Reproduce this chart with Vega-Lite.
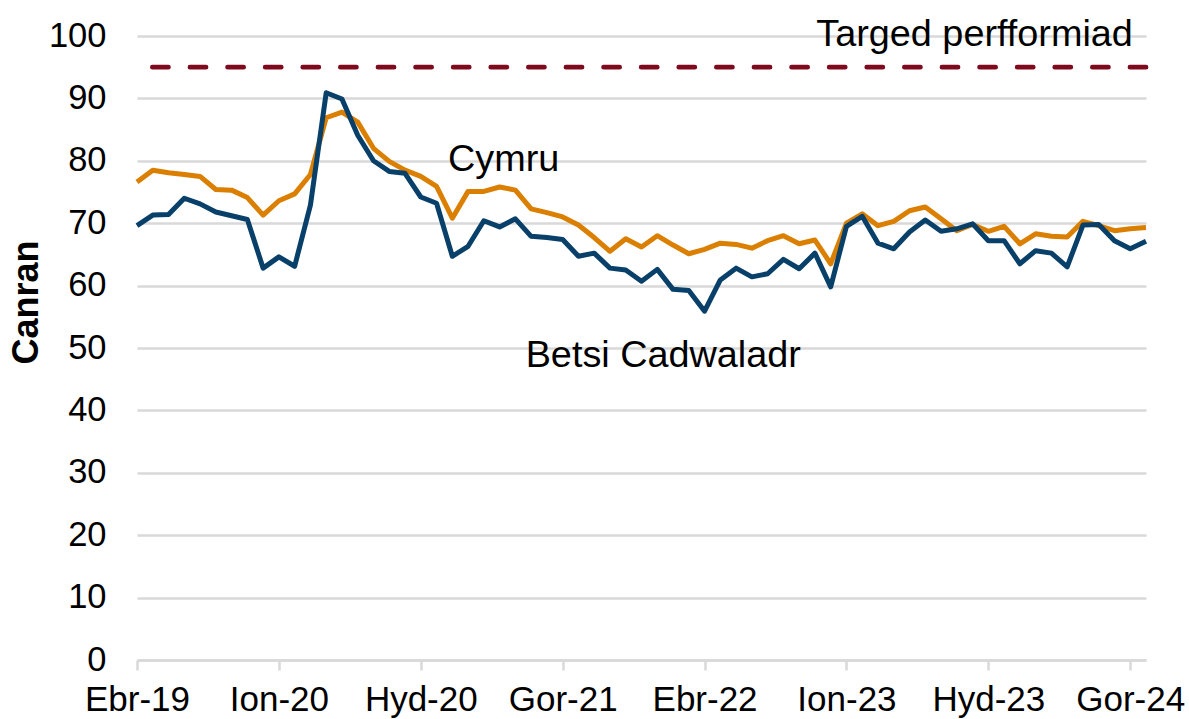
{
  "$schema": "https://vega.github.io/schema/vega-lite/v6.json",
  "width": 1009,
  "height": 624,
  "autosize": {"type": "none"},
  "padding": {"left": 137, "top": 36, "right": 43, "bottom": 59},
  "background": "white",
  "config": {
    "view": {"stroke": null},
    "font": "Liberation Sans",
    "axis": {"labelFont": "Liberation Sans", "titleFont": "Liberation Sans", "labelColor": "#000000", "titleColor": "#000000"},
    "text": {"fontSize": 37.8, "align": "center", "baseline": "alphabetic", "color": "#000000", "font": "Liberation Sans"}
  },
  "datasets": {
    "main": [
      {"m": "Ebr-19", "betsi": 69.6, "cymru": 76.6},
      {"m": "Mai-19", "betsi": 71.3, "cymru": 78.5},
      {"m": "Meh-19", "betsi": 71.4, "cymru": 78.1},
      {"m": "Gor-19", "betsi": 74.0, "cymru": 77.8},
      {"m": "Aws-19", "betsi": 73.1, "cymru": 77.5},
      {"m": "Med-19", "betsi": 71.8, "cymru": 75.4},
      {"m": "Hyd-19", "betsi": 71.2, "cymru": 75.3},
      {"m": "Tach-19", "betsi": 70.6, "cymru": 74.1},
      {"m": "Rhag-19", "betsi": 62.8, "cymru": 71.3},
      {"m": "Ion-20", "betsi": 64.6, "cymru": 73.6},
      {"m": "Chwe-20", "betsi": 63.1, "cymru": 74.7},
      {"m": "Maw-20", "betsi": 72.9, "cymru": 77.8},
      {"m": "Ebr-20", "betsi": 90.9, "cymru": 86.9},
      {"m": "Mai-20", "betsi": 89.9, "cymru": 87.8},
      {"m": "Meh-20", "betsi": 84.1, "cymru": 86.2},
      {"m": "Gor-20", "betsi": 80.0, "cymru": 82.0},
      {"m": "Aws-20", "betsi": 78.3, "cymru": 79.9},
      {"m": "Med-20", "betsi": 78.0, "cymru": 78.5},
      {"m": "Hyd-20", "betsi": 74.2, "cymru": 77.5},
      {"m": "Tach-20", "betsi": 73.2, "cymru": 75.9},
      {"m": "Rhag-20", "betsi": 64.7, "cymru": 70.8},
      {"m": "Ion-21", "betsi": 66.3, "cymru": 75.1},
      {"m": "Chwe-21", "betsi": 70.4, "cymru": 75.1},
      {"m": "Maw-21", "betsi": 69.4, "cymru": 75.8},
      {"m": "Ebr-21", "betsi": 70.7, "cymru": 75.3},
      {"m": "Mai-21", "betsi": 67.9, "cymru": 72.3},
      {"m": "Meh-21", "betsi": 67.7, "cymru": 71.7},
      {"m": "Gor-21", "betsi": 67.4, "cymru": 71.0},
      {"m": "Aws-21", "betsi": 64.7, "cymru": 69.7},
      {"m": "Med-21", "betsi": 65.2, "cymru": 67.7},
      {"m": "Hyd-21", "betsi": 62.8, "cymru": 65.5},
      {"m": "Tach-21", "betsi": 62.5, "cymru": 67.5},
      {"m": "Rhag-21", "betsi": 60.7, "cymru": 66.2},
      {"m": "Ion-22", "betsi": 62.6, "cymru": 68.0},
      {"m": "Chwe-22", "betsi": 59.4, "cymru": 66.5},
      {"m": "Maw-22", "betsi": 59.2, "cymru": 65.1},
      {"m": "Ebr-22", "betsi": 55.9, "cymru": 65.8},
      {"m": "Mai-22", "betsi": 60.9, "cymru": 66.8},
      {"m": "Meh-22", "betsi": 62.8, "cymru": 66.6},
      {"m": "Gor-22", "betsi": 61.4, "cymru": 66.0},
      {"m": "Aws-22", "betsi": 61.9, "cymru": 67.2},
      {"m": "Med-22", "betsi": 64.2, "cymru": 68.0},
      {"m": "Hyd-22", "betsi": 62.7, "cymru": 66.7},
      {"m": "Tach-22", "betsi": 65.2, "cymru": 67.3},
      {"m": "Rhag-22", "betsi": 59.8, "cymru": 63.5},
      {"m": "Ion-23", "betsi": 69.5, "cymru": 70.0},
      {"m": "Chwe-23", "betsi": 71.1, "cymru": 71.5},
      {"m": "Maw-23", "betsi": 66.8, "cymru": 69.6},
      {"m": "Ebr-23", "betsi": 65.9, "cymru": 70.3},
      {"m": "Mai-23", "betsi": 68.6, "cymru": 72.0},
      {"m": "Meh-23", "betsi": 70.5, "cymru": 72.6},
      {"m": "Gor-23", "betsi": 68.7, "cymru": 70.7},
      {"m": "Aws-23", "betsi": 69.1, "cymru": 68.8},
      {"m": "Med-23", "betsi": 69.9, "cymru": 69.8},
      {"m": "Hyd-23", "betsi": 67.2, "cymru": 68.7},
      {"m": "Tach-23", "betsi": 67.2, "cymru": 69.5},
      {"m": "Rhag-23", "betsi": 63.5, "cymru": 66.7},
      {"m": "Ion-24", "betsi": 65.6, "cymru": 68.3},
      {"m": "Chwe-24", "betsi": 65.2, "cymru": 67.9},
      {"m": "Maw-24", "betsi": 63.0, "cymru": 67.8},
      {"m": "Ebr-24", "betsi": 69.7, "cymru": 70.3},
      {"m": "Mai-24", "betsi": 69.8, "cymru": 69.6},
      {"m": "Meh-24", "betsi": 67.2, "cymru": 68.8},
      {"m": "Gor-24", "betsi": 65.9, "cymru": 69.1},
      {"m": "Aws-24", "betsi": 67.1, "cymru": 69.3}
    ],
    "target": [{"target": 95}]
  },
  "layer": [
    {
      "data": {"name": "target"},
      "mark": {"type": "rule", "color": "#7F0A1E", "strokeWidth": 4.8, "strokeDash": [16, 21.6], "strokeCap": "round"},
      "encoding": {
        "y": {"field": "target", "type": "quantitative", "scale": {"domain": [0, 100]}}
      }
    },
    {
      "data": {"name": "main"},
      "transform": [{"fold": ["cymru", "betsi"], "as": ["series", "value"]}],
      "mark": {"type": "line", "strokeWidth": 5, "strokeJoin": "round"},
      "encoding": {
        "x": {
          "field": "m", "type": "ordinal", "sort": null,
          "scale": {"type": "point", "padding": 0},
          "axis": {
            "values": ["Ebr-19", "Ion-20", "Hyd-20", "Gor-21", "Ebr-22", "Ion-23", "Hyd-23", "Gor-24"],
            "title": null, "labelAngle": 0, "labelFontSize": 35, "labelPadding": 12,
            "domainColor": "#d9d9d9", "domainWidth": 2.5, "tickColor": "#d9d9d9", "tickWidth": 2.5, "tickSize": 10,
            "grid": false, "labelOverlap": false
          }
        },
        "y": {
          "field": "value", "type": "quantitative",
          "scale": {"domain": [0, 100], "nice": false},
          "axis": {
            "values": [0, 10, 20, 30, 40, 50, 60, 70, 80, 90, 100],
            "title": "Canran", "titleFontSize": 36, "titleFontWeight": "bold",
            "titleAngle": -90, "titleX": -111, "titleY": 266, "titleAlign": "center", "titleBaseline": "middle",
            "labelFontSize": 34.5, "labelPadding": 31, "ticks": false, "domain": false,
            "grid": true, "gridColor": "#d9d9d9", "gridWidth": 2.5
          }
        },
        "color": {
          "field": "series", "type": "nominal",
          "scale": {"domain": ["cymru", "betsi"], "range": ["#DA7F00", "#08406A"]},
          "legend": null
        }
      }
    },
    {
      "data": {"values": [{"m": "Maw-21", "value": 78.3, "label": "Cymru"}]},
      "mark": {"type": "text", "dx": 4},
      "encoding": {
        "x": {"field": "m", "type": "ordinal", "sort": null},
        "y": {"field": "value", "type": "quantitative"},
        "text": {"field": "label"}
      }
    },
    {
      "data": {"values": [{"m": "Ion-22", "value": 46.9, "label": "Betsi Cadwaladr"}]},
      "mark": {"type": "text", "dx": 6},
      "encoding": {
        "x": {"field": "m", "type": "ordinal", "sort": null},
        "y": {"field": "value", "type": "quantitative"},
        "text": {"field": "label"}
      }
    },
    {
      "data": {"values": [{"m": "Med-23", "value": 98.4, "label": "Targed perfformiad"}]},
      "mark": {"type": "text", "dx": 2},
      "encoding": {
        "x": {"field": "m", "type": "ordinal", "sort": null},
        "y": {"field": "value", "type": "quantitative"},
        "text": {"field": "label"}
      }
    }
  ]
}
